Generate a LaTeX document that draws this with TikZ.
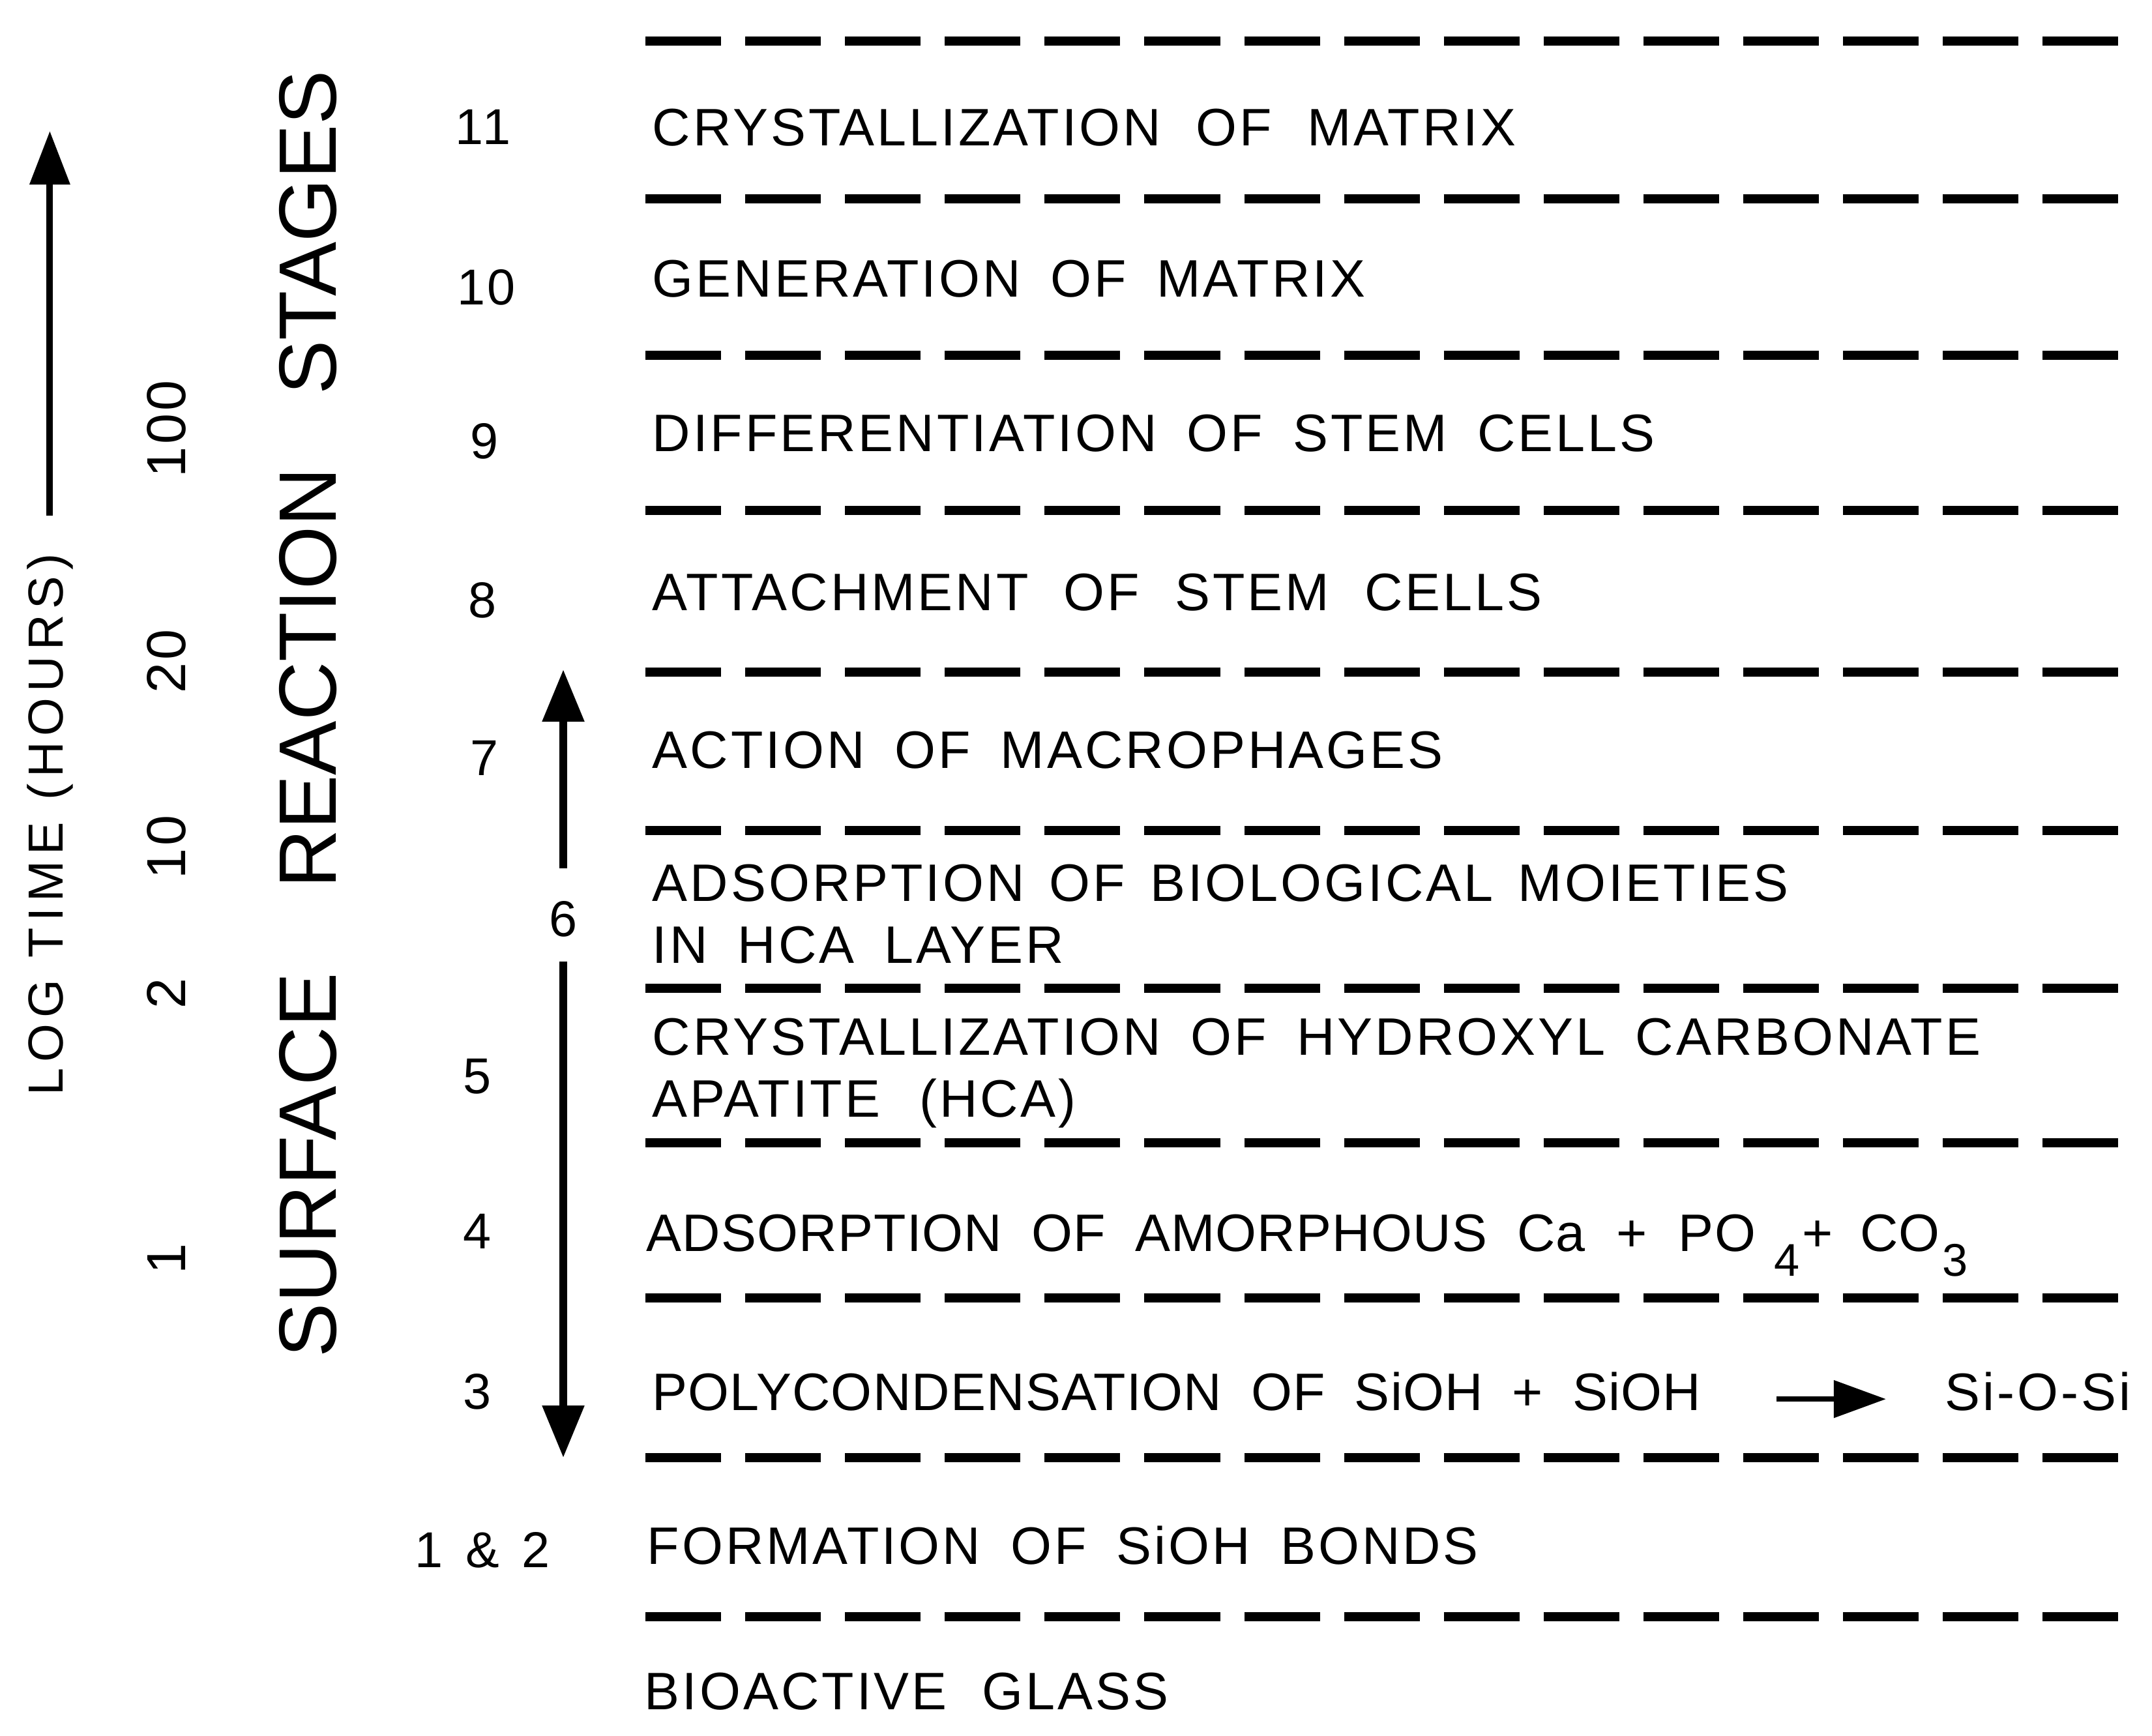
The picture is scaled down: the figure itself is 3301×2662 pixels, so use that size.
\documentclass[tikz,border=0pt]{standalone}
\usepackage{fontspec}
\setmainfont{Liberation Sans}
\newfontfamily\stagefont[LetterSpace=5]{Liberation Sans}
\newfontfamily\tightfont[LetterSpace=1.5]{Liberation Sans}
\newfontfamily\timefont[LetterSpace=12]{Liberation Sans}
\usetikzlibrary{arrows.meta}
\newcommand{\dropsub}[1]{\raisebox{-0.38cm}{\fontsize{20}{20}\selectfont #1}}
\newcommand{\wordgap}[1]{\spaceskip #1\relax}

\tikzset{
  stage/.style={anchor=base west,inner sep=0pt,font={\stagefont\fontsize{23}{27}\selectfont\wordgap{0.46cm}}},
  widestage/.style={stage,font={\stagefont\fontsize{23}{27}\selectfont\wordgap{0.54cm}}},
  closestage/.style={stage,font={\stagefont\fontsize{23}{27}\selectfont\wordgap{0.38cm}}},
  tightstage/.style={stage,font={\tightfont\fontsize{23}{27}\selectfont\wordgap{0.45cm}}},
  stagenum/.style={inner sep=0pt,font={\stagefont\fontsize{22}{26}\selectfont\wordgap{0.35cm}}},
  hours/.style={rotate=90,inner sep=0pt,font={\stagefont\fontsize{24}{28}\selectfont}},
  layer/.style={line width=0.14cm,dash pattern=on 1.16cm off 0.37cm},
  headarrow/.style={line width=0.12cm,-{Triangle[width=0.62cm,length=0.8cm]}}
}

\begin{document}
\begin{tikzpicture}[x=0.01cm,y=-0.01cm]
    \useasboundingbox (0,0) rectangle (3301,2662);
    % layer boundaries
    \draw[layer] (990,63) -- (3253,63);
    \draw[layer] (990,305) -- (3253,305);
    \draw[layer] (990,545) -- (3253,545);
    \draw[layer] (990,783) -- (3253,783);
    \draw[layer] (990,1031) -- (3253,1031);
    \draw[layer] (990,1274) -- (3253,1274);
    \draw[layer] (990,1516) -- (3253,1516);
    \draw[layer] (990,1753) -- (3253,1753);
    \draw[layer] (990,1991) -- (3253,1991);
    \draw[layer] (990,2236) -- (3253,2236);
    \draw[layer] (990,2480) -- (3253,2480);
    % stages
    \node[widestage] (s11) at (1000,223) {CRYSTALLIZATION OF MATRIX};
    \node[stage] (s10) at (1000,455) {GENERATION OF MATRIX};
    \node[stage] (s9) at (1000,692) {DIFFERENTIATION OF STEM CELLS};
    \node[widestage] (s8) at (1000,936) {ATTACHMENT OF STEM CELLS};
    \node[stage] (s7) at (1000,1178) {ACTION OF MACROPHAGES};
    \node[closestage] (s6) at (1000,1382) {ADSORPTION OF BIOLOGICAL MOIETIES};
    \node[stage] (s6b) at (1000,1477) {IN HCA LAYER};
    \node[stage] (s5) at (1000,1618) {CRYSTALLIZATION OF HYDROXYL CARBONATE};
    \node[stage] (s5b) at (1000,1713) {APATITE\hspace{0.6cm}(HCA)};
    \node[tightstage] (s4) at (991,1919) {ADSORPTION OF AMORPHOUS\hspace{0.46cm}Ca\hspace{0.48cm}+\hspace{0.48cm}PO\hspace{0.28cm}\dropsub{4}\hspace{0.04cm}+\hspace{0.42cm}CO\hspace{0.04cm}\dropsub{3}};
    \node[tightstage] (s3) at (1000,2163) {POLYCONDENSATION OF SiOH + SiOH};
    \node[stage] (s3r) at (2983,2163) {Si-O-Si};
    \draw[line width=0.08cm,-{Triangle[width=0.56cm,length=0.8cm]}] ([xshift=-2.58cm,yshift=-0.12cm]s3r.west) -- ([xshift=-0.9cm,yshift=-0.12cm]s3r.west);
    \node[stage] (s12) at (992,2399) {FORMATION OF SiOH BONDS};
    \node[stage] (glass) at (988,2622) {BIOACTIVE\hspace{0.54cm}GLASS};
    % stage numbers
    \node[stagenum] (n11) at (741,195) {11};
    \node[stagenum] (n10) at (746,441) {10};
    \node[stagenum] (n9) at (743,677) {9};
    \node[stagenum] (n8) at (740,921) {8};
    \node[stagenum] (n7) at (743,1163) {7};
    \node[stagenum] (n6) at (864,1410) {6};
    \node[stagenum] (n5) at (732,1651) {5};
    \node[stagenum] (n4) at (732,1889) {4};
    \node[stagenum] (n3) at (732,2135) {3};
    \node[stagenum] (n12) at (740,2378) {1 \& 2};
    \coordinate (sixtop) at (864,1027);
    \coordinate (sixbot) at (864,2236);
    \draw[headarrow] ([yshift=0.5cm]n6.north) -- (sixtop);
    \draw[headarrow] ([yshift=-0.37cm]n6.south) -- (sixbot);
    % time axis
    \node[rotate=90,anchor=base,inner sep=0pt,font={\timefont\fontsize{21.5}{26}\selectfont\wordgap{0.34cm}}] (logtime) at (96,1265) {LOG TIME (HOURS)};
    \coordinate (timetop) at (82,201);
    \draw[line width=0.1cm,-{Triangle[width=0.6cm,length=0.82cm]}] ([yshift=0.58cm]logtime.east) -- (logtime.east |- timetop);
    \node[hours] (h100) at (255,658) {100};
    \node[hours] (h20) at (255,1014) {20};
    \node[hours] (h10) at (255,1299) {10};
    \node[hours] (h2) at (255,1524) {2};
    \node[hours] (h1) at (255,1931) {1};
    \node[rotate=90,anchor=base,inner sep=0pt,font=\fontsize{35.5}{42}\selectfont] (title) at (515,1095) {SURFACE\hspace{1.3cm}REACTION\hspace{1.12cm}STAGES};
\end{tikzpicture}
\end{document}
